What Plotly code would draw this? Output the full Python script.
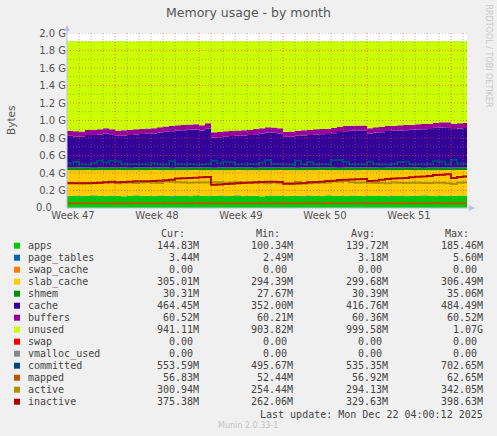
import pandas as pd
import plotly.graph_objects as go

times = pd.date_range("2025-11-20 00:00", periods=68, freq="12h")

apps = [138, 142, 136, 140, 145, 139, 137, 143, 141, 135,
        140, 146, 138, 141, 137, 144, 139, 136, 142, 140,
        138, 145, 141, 137, 139, 143, 136, 140, 146, 138,
        141, 139, 135, 142, 140, 144, 137, 139, 141, 136,
        143, 140, 138, 146, 139, 141, 137, 142, 140, 138,
        144, 139, 141, 136, 140, 143, 138, 141, 139, 145,
        140, 137, 142, 139, 141, 143, 140, 145]
page_tables = [3.2, 3.1, 3.2, 3.3, 3.2, 3.1, 3.2, 3.2, 3.3, 3.1,
               3.2, 3.2, 3.1, 3.2, 3.3, 3.2, 3.1, 3.2, 3.2, 3.1,
               3.2, 3.3, 3.2, 3.1, 3.2, 3.2, 3.1, 3.2, 3.3, 3.2,
               3.1, 3.2, 3.2, 3.1, 3.2, 3.3, 3.2, 3.1, 3.2, 3.2,
               3.1, 3.2, 3.3, 3.2, 3.1, 3.2, 3.2, 3.1, 3.2, 3.3,
               3.2, 3.1, 3.2, 3.2, 3.1, 3.2, 3.3, 3.2, 3.1, 3.2,
               3.2, 3.1, 3.2, 3.3, 3.2, 3.3, 3.4, 3.4]
slab_cache = [302, 298, 304, 300, 295, 301, 303, 297, 299, 305,
              300, 294, 302, 299, 303, 296, 301, 304, 298, 300,
              302, 295, 299, 303, 301, 297, 304, 300, 294, 302,
              299, 301, 305, 298, 300, 296, 303, 301, 299, 304,
              297, 300, 302, 294, 301, 299, 303, 298, 300, 302,
              296, 301, 299, 304, 300, 297, 302, 299, 301, 295,
              300, 303, 298, 301, 299, 297, 300, 295]
shmem = [30, 30, 31, 30, 29, 30, 30, 31, 30, 30,
         29, 30, 30, 30, 31, 30, 30, 29, 30, 30,
         31, 30, 30, 30, 29, 30, 30, 31, 30, 30,
         30, 29, 30, 30, 31, 30, 30, 30, 29, 30,
         30, 31, 30, 30, 30, 29, 30, 30, 31, 30,
         30, 30, 29, 30, 30, 31, 30, 30, 30, 29,
         30, 30, 31, 30, 30, 30, 30, 30]
cache = [372, 364, 362, 380, 382, 388, 399, 388, 372, 376,
         382, 388, 392, 397, 399, 411, 419, 427, 435, 438,
         442, 446, 435, 458, 353, 356, 364, 367, 372, 376,
         380, 392, 399, 411, 407, 399, 360, 362, 372, 376,
         380, 387, 391, 394, 402, 417, 425, 430, 430, 432,
         399, 411, 415, 427, 430, 434, 437, 442, 446, 449,
         452, 465, 469, 471, 452, 457, 462, 464]
buffers = [60.2, 60.2, 60.2, 60.3, 60.3, 60.3, 60.3, 60.3, 60.3, 60.3,
           60.3, 60.3, 60.3, 60.3, 60.3, 60.3, 60.3, 60.3, 60.4, 60.4,
           60.4, 60.4, 60.4, 60.4, 60.4, 60.4, 60.4, 60.4, 60.4, 60.4,
           60.4, 60.4, 60.4, 60.4, 60.4, 60.4, 60.4, 60.4, 60.4, 60.4,
           60.4, 60.4, 60.4, 60.4, 60.4, 60.4, 60.4, 60.4, 60.4, 60.4,
           60.5, 60.5, 60.5, 60.5, 60.5, 60.5, 60.5, 60.5, 60.5, 60.5,
           60.5, 60.5, 60.5, 60.5, 60.5, 60.5, 60.5, 60.5]
unused = [1045, 1053, 1055, 1037, 1035, 1029, 1018, 1029, 1045, 1041,
          1035, 1029, 1025, 1020, 1018, 1006, 998, 990, 982, 979,
          975, 971, 982, 959, 1064, 1061, 1053, 1050, 1045, 1041,
          1037, 1025, 1018, 1006, 1010, 1018, 1057, 1055, 1045, 1041,
          1037, 1030, 1026, 1023, 1015, 1000, 992, 987, 987, 985,
          1018, 1006, 1002, 990, 987, 983, 980, 975, 971, 968,
          965, 952, 948, 946, 965, 960, 955, 953]
committed = [523, 538, 512, 510, 528, 554, 536, 552, 545, 515,
             512, 514, 511, 510, 524, 512, 511, 550, 513, 511,
             515, 512, 510, 514, 552, 523, 540, 536, 512, 511,
             514, 512, 530, 562, 515, 512, 513, 510, 552, 512,
             538, 514, 512, 511, 558, 562, 540, 513, 511, 512,
             540, 515, 512, 510, 514, 538, 540, 512, 511, 513,
             515, 548, 545, 512, 565, 520, 515, 554]
mapped = [56, 57, 56, 57, 58, 57, 56, 57, 57, 56,
          57, 58, 57, 56, 57, 57, 58, 57, 56, 57,
          57, 58, 57, 57, 55, 56, 57, 56, 57, 57,
          56, 57, 58, 57, 57, 56, 55, 56, 57, 57,
          56, 57, 57, 58, 57, 56, 57, 57, 58, 57,
          56, 57, 57, 56, 57, 58, 57, 57, 56, 57,
          57, 58, 57, 57, 56, 57, 57, 57]
active = [296, 292, 290, 294, 291, 296, 298, 295, 290, 296,
          298, 294, 297, 300, 296, 293, 310, 308, 300, 298,
          296, 298, 299, 297, 301, 300, 296, 298, 301, 294,
          292, 296, 295, 290, 298, 291, 289, 290, 305, 292,
          290, 293, 296, 297, 310, 308, 315, 300, 296, 298,
          295, 294, 296, 291, 298, 296, 293, 295, 296, 292,
          294, 296, 295, 290, 280, 296, 299, 301]
inactive = [289, 289, 290, 289, 292, 295, 300, 308, 301, 303,
            306, 313, 313, 314, 316, 318, 325, 331, 345, 347,
            350, 355, 359, 363, 273, 275, 280, 283, 290, 296,
            298, 301, 304, 308, 306, 305, 284, 285, 286, 290,
            300, 304, 306, 315, 320, 328, 331, 333, 336, 339,
            316, 320, 330, 340, 344, 347, 352, 360, 365, 370,
            374, 385, 388, 394, 351, 362, 368, 375]

# --- legend table (munin style) ---
legend_names = ["apps", "page_tables", "swap_cache", "slab_cache", "shmem", "cache", "buffers",
                "unused", "swap", "vmalloc_used", "committed", "mapped", "active", "inactive"]
legend_colors = ["#00CC00", "#0066B3", "#FF8000", "#FFCC00", "#008F00", "#330099", "#990099",
                 "#CCFF00", "#FF0000", "#888888", "#00487D", "#B35A00", "#B38F00", "#B30000"]
NB = "\u00a0"
cur_vals = ["144.83M", "3.44M", "0.00" + NB, "305.01M", "30.31M", "464.45M", "60.52M",
            "941.11M", "0.00" + NB, "0.00" + NB, "553.59M", "56.83M", "300.94M", "375.38M"]
min_vals = ["100.34M", "2.49M", "0.00" + NB, "294.39M", "27.67M", "352.00M", "60.21M",
            "903.82M", "0.00" + NB, "0.00" + NB, "495.67M", "52.44M", "254.44M", "262.06M"]
avg_vals = ["139.72M", "3.18M", "0.00" + NB, "299.68M", "30.39M", "416.76M", "60.36M",
            "999.58M", "0.00" + NB, "0.00" + NB, "535.35M", "56.92M", "294.13M", "329.63M"]
max_vals = ["185.46M", "5.60M", "0.00" + NB, "306.49M", "35.06M", "484.49M", "60.52M",
            "1.07G", "0.00" + NB, "0.00" + NB, "702.65M", "62.65M", "342.05M", "398.63M"]
col_heads = ["Cur:", "Min:", "Avg:", "Max:"]

week_labels = ["Week 47", "Week 48", "Week 49", "Week 50", "Week 51"]
week_label_pos = pd.to_datetime(["2025-11-20 12:00", "2025-11-27 12:00", "2025-12-04 12:00",
                                 "2025-12-11 12:00", "2025-12-18 12:00"])
week_starts = pd.to_datetime(["2025-11-24", "2025-12-01", "2025-12-08", "2025-12-15", "2025-12-22"])
y_ticks_g = [0.2, 0.4, 0.6, 0.8, 1.0, 1.2, 1.4, 1.6, 1.8, 2.0]

x_start, x_end = pd.Timestamp("2025-11-20 00:00"), pd.Timestamp("2025-12-23 08:00")

# plot box in pixels (for placing the legend table)
L, R, T, B = 67, 467, 33, 208
W, H = 497, 436
px_x = lambda p: (p - L) / (R - L)
px_y = lambda p: (B - p) / (B - T)

MONO = "DejaVu Sans Mono"
SANS = "DejaVu Sans"
TXT = "#444444"

fig = go.Figure()

areas = [("apps", apps, "#00CC00"), ("page_tables", page_tables, "#0066B3"),
         ("slab_cache", slab_cache, "#FFCC00"), ("shmem", shmem, "#008F00"),
         ("cache", cache, "#330099"), ("buffers", buffers, "#990099"),
         ("unused", unused, "#CCFF00")]
for name, vals, col in areas:
    fig.add_trace(go.Scatter(x=times, y=vals, name=name, stackgroup="mem",
                             line=dict(width=0, shape="hv", color=col),
                             fillcolor=col, mode="lines", showlegend=False))

lines = [("committed", committed, "#00487D"), ("mapped", mapped, "#B35A00"),
         ("active", active, "#B38F00"), ("inactive", inactive, "#B30000")]
for name, vals, col in lines:
    fig.add_trace(go.Scatter(x=times, y=vals, name=name, mode="lines",
                             line=dict(width=2, shape="hv", color=col), showlegend=False))

shapes = []
# grid on top of the data, rrdtool style
minor = "rgba(120,120,120,0.5)"
major = "rgba(235,60,60,0.65)"
for d in pd.date_range("2025-11-21", "2025-12-23", freq="D"):
    col = major if d in week_starts else minor
    shapes.append(dict(type="line", xref="x", yref="paper", x0=d, x1=d, y0=0, y1=1,
                       line=dict(color=col, width=1, dash="1px,2px")))
for i in range(1, 21):
    v = i * 0.1 * 1024
    col = major if i % 2 == 0 else minor
    shapes.append(dict(type="line", xref="paper", yref="y", x0=0, x1=1, y0=v, y1=v,
                       line=dict(color=col, width=1, dash="1px,2px")))
# axis arrows
axc = "#B8C0E8"
shapes.append(dict(type="line", xref="paper", yref="paper", x0=0, x1=0, y0=0, y1=px_y(27),
                   line=dict(color=axc, width=1)))
shapes.append(dict(type="line", xref="paper", yref="paper", x0=0, x1=px_x(472), y0=0, y1=0,
                   line=dict(color=axc, width=1)))
shapes.append(dict(type="path", xref="paper", yref="paper",
                   path=f"M {px_x(64)} {px_y(31)} L {px_x(70)} {px_y(31)} L {px_x(67)} {px_y(25)} Z",
                   fillcolor=axc, line=dict(width=0)))
shapes.append(dict(type="path", xref="paper", yref="paper",
                   path=f"M {px_x(469)} {px_y(205)} L {px_x(469)} {px_y(211)} L {px_x(475)} {px_y(208)} Z",
                   fillcolor=axc, line=dict(width=0)))

ann = []
# legend squares, names, values
row0 = 245.7
for i, name in enumerate(legend_names):
    yc = row0 + 12 * i
    shapes.append(dict(type="rect", xref="paper", yref="paper",
                       x0=px_x(14), x1=px_x(20), y0=px_y(yc - 3), y1=px_y(yc + 3),
                       fillcolor=legend_colors[i], line=dict(width=0)))
    ann.append(dict(text=name, x=px_x(25.5), y=px_y(yc), xanchor="left", yanchor="middle"))
    for right, vals in zip([200.5, 295, 389.5, 484.5], [cur_vals, min_vals, avg_vals, max_vals]):
        ann.append(dict(text=vals[i], x=px_x(right), y=px_y(yc), xanchor="right", yanchor="middle"))
for right, h in zip([186.5, 282, 376.5, 470.5], col_heads):
    ann.append(dict(text=h, x=px_x(right), y=px_y(233.5), xanchor="right", yanchor="middle"))
ann.append(dict(text="Last update: Mon Dec 22 04:00:12 2025", x=px_x(484.5), y=px_y(414),
                xanchor="right", yanchor="middle"))
for a in ann:
    a.update(xref="paper", yref="paper", showarrow=False,
             font=dict(family=MONO, size=10, color=TXT))

# the "0.0" label sits a little left of the others (blank unit suffix)
ann.append(dict(text="0.0", x=px_x(54), y=px_y(207), xref="paper", yref="paper",
                showarrow=False, xanchor="right", yanchor="middle",
                font=dict(family=SANS, size=10, color="#555555")))
ann.append(dict(text="Munin 2.0.33-1", x=px_x(248), y=px_y(425.5), xref="paper", yref="paper",
                showarrow=False, xanchor="center", yanchor="middle",
                font=dict(family=SANS, size=8, color="#C4C4C4")))
ann.append(dict(text="RRDTOOL / TOBI OETIKER", x=px_x(488.5), y=px_y(56), xref="paper", yref="paper",
                showarrow=False, textangle=90, xanchor="center", yanchor="middle",
                font=dict(family=SANS, size=8, color="#C8C8C8")))
ann.append(dict(text="Bytes", x=px_x(11), y=px_y(120), xref="paper", yref="paper",
                showarrow=False, textangle=-90, xanchor="center", yanchor="middle",
                font=dict(family=SANS, size=10.5, color="#555555")))

fig.update_layout(
    width=W, height=H, autosize=False,
    margin=dict(l=L, r=W - R, t=T, b=H - B, pad=0),
    paper_bgcolor="#F0F0F0", plot_bgcolor="#FFFFFF",
    title=dict(text="Memory usage - by month", x=0.5, xanchor="center", y=1 - 13 / H, yanchor="middle",
               font=dict(family=SANS, size=12.5, color="#555555")),
    shapes=shapes, annotations=ann,
    xaxis=dict(type="date", range=[x_start, x_end], showgrid=False, zeroline=False,
               showline=False, ticks="", tickmode="array", tickvals=week_label_pos,
               ticktext=week_labels, tickfont=dict(family=SANS, size=10, color="#555555")),
    yaxis=dict(range=[0, 2048], showgrid=False, zeroline=False, showline=False, ticks="",
               tickmode="array", tickvals=[v * 1024 for v in y_ticks_g],
               ticktext=[f"{v:.1f} G" for v in y_ticks_g],
               tickfont=dict(family=SANS, size=10, color="#555555")),
    showlegend=False,
)

# drop the browser's default 8px body margin so the figure sits at the page corner
fig.write_html("out.html", config={"displayModeBar": False},
               post_script="document.body.style.margin='0';")
